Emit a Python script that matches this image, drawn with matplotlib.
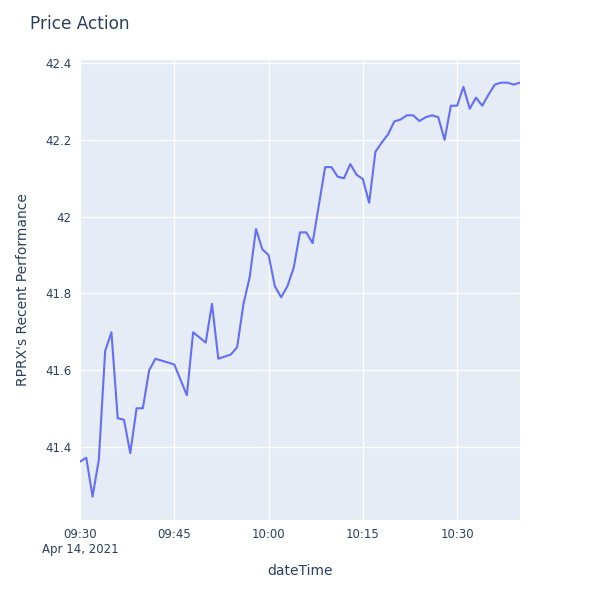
import datetime as dt
import matplotlib
matplotlib.use("Agg")
import matplotlib.pyplot as plt

# data (minute bars, Apr 14 2021)
times = ["09:30", "09:31", "09:32", "09:33", "09:34", "09:35", "09:36", "09:37",
         "09:38", "09:39", "09:40", "09:41", "09:42", "09:45", "09:47", "09:48",
         "09:50", "09:51", "09:52", "09:54", "09:55", "09:56", "09:57", "09:58",
         "09:59", "10:00", "10:01", "10:02", "10:03", "10:04", "10:05", "10:06",
         "10:07", "10:09", "10:10", "10:11", "10:12", "10:13", "10:14", "10:15",
         "10:16", "10:17", "10:18", "10:19", "10:20", "10:21", "10:22", "10:23",
         "10:24", "10:25", "10:26", "10:27", "10:28", "10:29", "10:30", "10:31",
         "10:32", "10:33", "10:34", "10:35", "10:36", "10:37", "10:38", "10:39",
         "10:40"]
prices = [41.362, 41.372, 41.271, 41.368, 41.650, 41.699, 41.475, 41.471,
          41.384, 41.501, 41.501, 41.600, 41.630, 41.615, 41.535, 41.699,
          41.672, 41.773, 41.630, 41.641, 41.660, 41.772, 41.843, 41.968,
          41.915, 41.900, 41.819, 41.790, 41.819, 41.867, 41.959, 41.959,
          41.931, 42.129, 42.129, 42.104, 42.100, 42.137, 42.109, 42.098,
          42.036, 42.169, 42.193, 42.214, 42.248, 42.253, 42.264, 42.264,
          42.249, 42.259, 42.264, 42.259, 42.200, 42.289, 42.289, 42.338,
          42.281, 42.310, 42.289, 42.318, 42.344, 42.349, 42.349, 42.344,
          42.349]
xticks = ["09:30", "09:45", "10:00", "10:15", "10:30"]
yticks = [41.4, 41.6, 41.8, 42.0, 42.2, 42.4]
ytick_labels = ["41.4", "41.6", "41.8", "42", "42.2", "42.4"]

day = dt.date(2021, 4, 14)
def to_dt(s):
    h, m = s.split(":")
    return dt.datetime(day.year, day.month, day.day, int(h), int(m))

x = [to_dt(t) for t in times]

TXT = "#2a3f5f"
plt.rcParams["font.family"] = ["DejaVu Sans"]

fig = plt.figure(figsize=(6, 6), dpi=100)
ax = fig.add_axes([80/600, 80/600, 440/600, 460/600])
ax.set_facecolor("#E5ECF6")
for s in ax.spines.values():
    s.set_visible(False)

ax.plot(x, prices, color="#636EFA", lw=1.5, solid_joinstyle="round")

ax.set_xlim(to_dt("09:30"), to_dt("10:40"))
ax.set_ylim(41.21, 42.408)

ax.set_xticks([to_dt(t) for t in xticks])
ax.set_xticklabels([xticks[0] + "\nApr 14, 2021"] + xticks[1:], color=TXT, fontsize=8.5,
                   linespacing=1.15)
ax.set_yticks(yticks)
ax.set_yticklabels(ytick_labels, color=TXT, fontsize=8.5)
ax.tick_params(length=0, pad=6)
ax.grid(True, color="white", lw=1)
ax.set_axisbelow(True)

ax.set_xlabel("dateTime", color=TXT, fontsize=10, labelpad=6)
ax.set_ylabel("RPRX's Recent Performance", color=TXT, fontsize=10, labelpad=11)
fig.text(30/600, 1 - 24/600, "Price Action", color=TXT, fontsize=12.2, va="center", ha="left")

fig.savefig("out.png", dpi=100)
